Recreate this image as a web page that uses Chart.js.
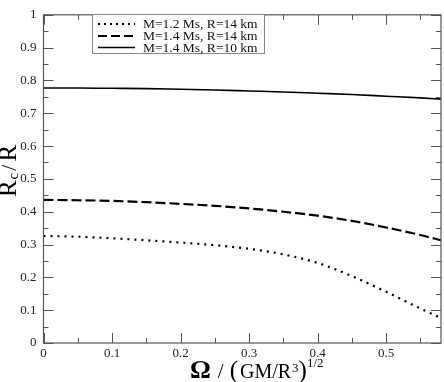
<!DOCTYPE html>
<html><head><meta charset="utf-8">
<script src="https://cdn.jsdelivr.net/npm/chart.js@4/dist/chart.umd.min.js"></script>
<style>html,body{margin:0;padding:0;background:#fff}#wrap{width:444px;height:382px}</style>
</head><body><div id="wrap"><canvas id="c" width="444" height="382"></canvas></div>
<script>
const omega = [0, 0.05, 0.1, 0.15, 0.2, 0.25, 0.3, 0.35, 0.4, 0.45, 0.5, 0.55, 0.58];
const m12r14 = [0.326, 0.324, 0.319, 0.313, 0.306, 0.298, 0.287, 0.270, 0.244, 0.204, 0.156, 0.105, 0.076];
const m14r14 = [0.436, 0.435, 0.433, 0.429, 0.424, 0.418, 0.410, 0.400, 0.388, 0.372, 0.352, 0.329, 0.313];
const m14r10 = [0.777, 0.777, 0.776, 0.775, 0.773, 0.771, 0.768, 0.765, 0.761, 0.757, 0.752, 0.747, 0.743];
const seriesNames = ['M=1.2 Ms, R=14 km', 'M=1.4 Ms, R=14 km', 'M=1.4 Ms, R=10 km'];
const xTicks = [0, 0.1, 0.2, 0.3, 0.4, 0.5];
const xMinor = [0.05, 0.15, 0.25, 0.35, 0.45, 0.55];
const yTicks = [0, 0.1, 0.2, 0.3, 0.4, 0.5, 0.6, 0.7, 0.8, 0.9, 1];
const yMinor = [0.05, 0.15, 0.25, 0.35, 0.45, 0.55, 0.65, 0.75, 0.85, 0.95];

const SERIF = '"Liberation Serif", "DejaVu Serif", serif';
const pts = arr => omega.map((x, i) => ({x, y: arr[i]}));

const styles = [
  {borderDash: [2, 5], borderWidth: 2.2},
  {borderDash: [10, 4], borderWidth: 2.2},
  {borderDash: [], borderWidth: 1.6}
];

const framePlugin = {
  id: 'frame',
  afterDraw(chart) {
    const ctx = chart.ctx, a = chart.chartArea;
    const xs = chart.scales.x, ys = chart.scales.y;
    ctx.save();
    ctx.strokeStyle = '#555';
    ctx.lineWidth = 1.2;
    ctx.strokeRect(a.left, a.top, a.right - a.left, a.bottom - a.top);
    ctx.lineWidth = 1;
    ctx.beginPath();
    const tick = (vals, len, scale, horiz) => {
      vals.forEach(v => {
        const p = Math.round(scale.getPixelForValue(v)) + 0.5;
        if (horiz) {
          ctx.moveTo(p, a.bottom); ctx.lineTo(p, a.bottom - len);
          ctx.moveTo(p, a.top); ctx.lineTo(p, a.top + len);
        } else {
          ctx.moveTo(a.left, p); ctx.lineTo(a.left + len, p);
          ctx.moveTo(a.right, p); ctx.lineTo(a.right - len, p);
        }
      });
    };
    tick(xTicks, 10, xs, true);
    tick(xMinor, 5, xs, true);
    tick(yTicks, 10, ys, false);
    tick(yMinor, 5, ys, false);
    ctx.stroke();

    // legend
    const lx = 92, ly = 14, lw = 172, lh = 39;
    ctx.fillStyle = '#fff';
    ctx.fillRect(lx, ly, lw, lh);
    ctx.strokeStyle = '#888';
    ctx.lineWidth = 1;
    ctx.strokeRect(lx + 0.5, ly + 0.5, lw, lh);
    const rows = [24, 36, 47.5];
    chart.data.datasets.forEach((ds, i) => {
      const y = rows[i];
      ctx.strokeStyle = '#000';
      ctx.lineWidth = ds.borderWidth;
      ctx.setLineDash(i === 0 ? [2, 4] : (i === 1 ? [9, 4] : []));
      ctx.beginPath(); ctx.moveTo(98, y); ctx.lineTo(135, y); ctx.stroke();
      ctx.setLineDash([]);
      ctx.fillStyle = '#111';
      ctx.font = '13.5px ' + SERIF;
      ctx.textBaseline = 'middle';
      ctx.textAlign = 'left';
      ctx.fillText(ds.label, 143, y + 0.5);
    });

    // y-axis title (rotated)
    ctx.save();
    ctx.translate(16, 171);
    ctx.rotate(-Math.PI / 2);
    ctx.fillStyle = '#000';
    ctx.textBaseline = 'alphabetic';
    ctx.textAlign = 'left';
    const parts = [
      {t: 'R', f: '25px ', dy: 0, gap: 1},
      {t: 'c', f: '15px ', dy: 2, gap: 2},
      {t: '/', f: '22px ', dy: 0, gap: 3},
      {t: 'R', f: '25px ', dy: 0, gap: 0}
    ];
    let tot = 0;
    parts.forEach(p => { ctx.font = p.f + SERIF; p.w = ctx.measureText(p.t).width; tot += p.w + p.gap; });
    let x0 = -tot / 2;
    parts.forEach(p => { ctx.font = p.f + SERIF; ctx.fillText(p.t, x0, p.dy); x0 += p.w + p.gap; });
    ctx.restore();

    // x-axis title
    ctx.fillStyle = '#000';
    ctx.textBaseline = 'alphabetic';
    ctx.textAlign = 'left';
    let x1 = 190; const by = 378;
    ctx.font = 'bold 26px ' + SERIF; ctx.fillText('\u03A9', x1, by); x1 += ctx.measureText('\u03A9').width + 7;
    ctx.font = '21px ' + SERIF; ctx.fillText('/', x1, by); x1 += ctx.measureText('/').width + 6;
    ctx.font = '25px ' + SERIF; ctx.fillText('(', x1, by); x1 += ctx.measureText('(').width + 2;
    ctx.font = '20px ' + SERIF; ctx.fillText('GM/R', x1, by); x1 += ctx.measureText('GM/R').width;
    ctx.font = '13px ' + SERIF; ctx.fillText('3', x1 + 1, by - 6); x1 += ctx.measureText('3').width + 1;
    ctx.font = '25px ' + SERIF; ctx.fillText(')', x1, by); x1 += ctx.measureText(')').width;
    ctx.font = '13px ' + SERIF; ctx.fillText('1/2', x1, by - 11);
    ctx.restore();
  }
};

new Chart(document.getElementById('c'), {
  type: 'line',
  data: {
    datasets: [m12r14, m14r14, m14r10].map((arr, i) => ({
      label: seriesNames[i],
      data: pts(arr),
      borderColor: '#000',
      borderWidth: styles[i].borderWidth,
      borderDash: styles[i].borderDash,
      borderCapStyle: 'butt',
      pointRadius: 0,
      fill: false,
      cubicInterpolationMode: 'monotone'
    }))
  },
  options: {
    responsive: false,
    animation: false,
    devicePixelRatio: 1,
    layout: {padding: {top: 5, right: 3, left: 0, bottom: 0}},
    plugins: {legend: {display: false}, tooltip: {enabled: false}},
    scales: {
      x: {
        type: 'linear', min: 0, max: 0.58,
        afterBuildTicks: s => { s.ticks = xTicks.map(v => ({value: v})); },
        afterFit: s => { s.height = 39; },
        grid: {display: false, drawTicks: false},
        border: {display: false},
        ticks: {font: {family: SERIF, size: 13}, color: '#222', padding: 3, maxRotation: 0,
                callback: v => String(v)}
      },
      y: {
        type: 'linear', min: 0, max: 1,
        afterBuildTicks: s => { s.ticks = yTicks.map(v => ({value: v})); },
        afterFit: s => { s.width = 43.5; },
        grid: {display: false, drawTicks: false},
        border: {display: false},
        ticks: {font: {family: SERIF, size: 13}, color: '#222', padding: 7,
                callback: v => String(v)}
      }
    }
  },
  plugins: [framePlugin]
});
</script></body></html>
